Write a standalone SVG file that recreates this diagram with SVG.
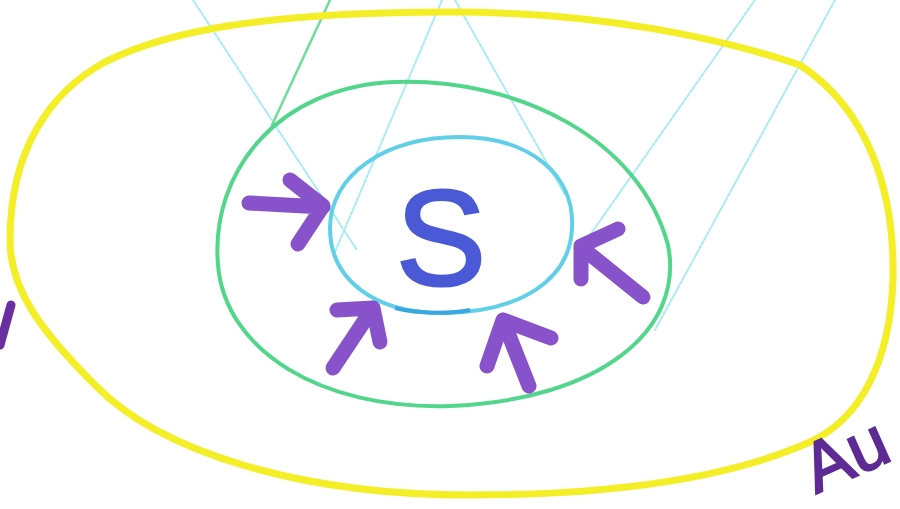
<svg xmlns="http://www.w3.org/2000/svg" width="900" height="509" viewBox="0 0 900 509">
<style>
.faint{fill:none;stroke:#a6ecf2;stroke-width:2;stroke-dasharray:3 2;stroke-linecap:round}
.arrow{fill:none;stroke:#7b3fc4;stroke-width:15;stroke-linecap:round;stroke-linejoin:round;stroke-opacity:0.9}
.hand{font-family:"Liberation Sans",Arial,sans-serif}
</style>
<rect width="900" height="509" fill="#ffffff"/>
<g id="faint-lines">
<line class="faint" x1="193" y1="0" x2="357" y2="250"/>
<line class="faint" x1="442" y1="0" x2="335" y2="252"/>
<line class="faint" x1="455" y1="0" x2="565" y2="195"/>
<line class="faint" x1="755" y1="0" x2="590" y2="235"/>
<line class="faint" x1="835" y1="0" x2="655" y2="330"/>
<line x1="330" y1="0" x2="272" y2="125" fill="none" stroke="#6fdc98" stroke-width="2.5" stroke-linecap="round"/>
</g>
<g id="outer-ring">
<path d="M 105,62 C 165,32 260,12 450,12 C 600,12 720,38 800,65 C 868,110 895,190 893,280 C 890,360 862,418 810,442 C 720,482 600,495 470,495 C 300,495 160,452 95,385 C 45,335 10,292 10,240 C 10,150 50,92 105,62 Z" fill="none" stroke="#f4ee26" stroke-width="7"/>
</g>
<g id="middle-ring">
<path d="M 395,82 C 520,78 640,140 668,245 C 685,330 600,400 450,406 C 320,410 225,350 218,265 C 210,170 280,86 395,82 Z" fill="none" stroke="#52d68c" stroke-width="4"/>
</g>
<g id="inner-ring">
<path d="M 460,137 C 530,137 575,175 572,228 C 570,280 520,312 445,313 C 375,314 330,280 330,228 C 330,175 385,137 460,137 Z" fill="none" stroke="#62cfe8" stroke-width="4"/>
<path d="M 395,308 C 420,314 450,314 470,310" fill="none" stroke="#3aa8e0" stroke-width="4"/>
</g>
<g id="center">
<text class="hand" x="441" y="285" text-anchor="middle" font-size="135" fill="#4a5ad6" stroke="#4a5ad6" stroke-width="3">S</text>
</g>
<g id="arrows">
<path class="arrow" d="M 249,203 L 323,207 M 290,180 L 323,206 L 298,244"/>
<path class="arrow" d="M 333,368 L 373,308 M 337,310 L 373,308 L 380,342"/>
<path class="arrow" d="M 529,386 L 503,320 M 487,366 L 503,320 L 551,338"/>
<path class="arrow" d="M 643,297 L 581,247 M 618,229 L 581,246 L 581,279"/>
</g>
<g id="edge-marks">
<path d="M 11,305 L 0,345" fill="none" stroke="#6a2f9e" stroke-width="9" stroke-linecap="round"/>
<text class="hand" x="816" y="494" font-size="70" fill="#5e2a94" stroke="#5e2a94" stroke-width="2" transform="rotate(-24 816 494)">Au</text>
</g>
</svg>
